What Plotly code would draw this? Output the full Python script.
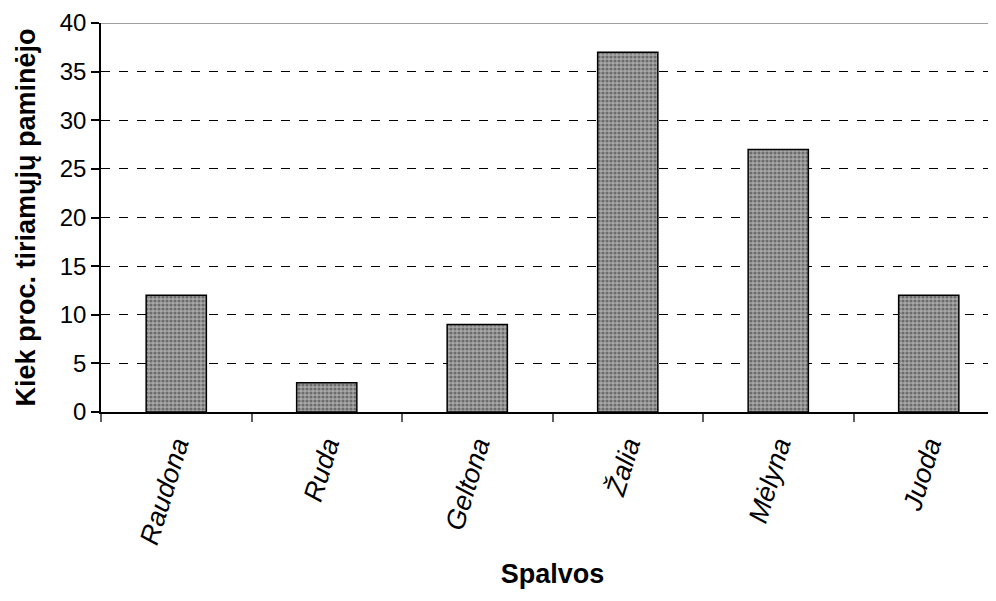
import plotly.graph_objects as go

categories = ["Raudona", "Ruda", "Geltona", "Žalia", "Mėlyna", "Juoda"]
values = [12, 3, 9, 37, 27, 12]
y_ticks = [0, 5, 10, 15, 20, 25, 30, 35, 40]

fig = go.Figure()
fig.add_trace(go.Bar(
    x=categories, y=values, width=0.4,
    marker=dict(color="#8c8c8c", line=dict(color="black", width=1.5),
                pattern=dict(shape=".", bgcolor="#a8a8a8", fgcolor="#303030",
                             size=4, solidity=0.5)),
))
fig.add_shape(type="line", xref="paper", yref="y", x0=0, x1=1, y0=40, y1=40,
              line=dict(color="#808080", width=1.5))

fig.update_layout(
    width=996, height=601,
    margin=dict(l=93, r=0, t=15, b=197),
    paper_bgcolor="white", plot_bgcolor="white",
    font=dict(family="Liberation Sans, Arial", size=24, color="black"),
    showlegend=False,
    xaxis=dict(
        range=[-0.5, 5.5], type="category",
        tickangle=-73, tickfont=dict(size=27, style="italic"),
        ticklabelstandoff=5,
        showline=True, linecolor="black", linewidth=1.5,
        ticks="outside", tickson="boundaries", ticklen=8, tickcolor="#606060", tickwidth=1.5,
        showgrid=False,
        title=dict(text="<b>Spalvos</b>", font=dict(size=27), standoff=17),
    ),
    yaxis=dict(
        range=[0, 40], tickvals=y_ticks,
        showline=True, linecolor="black", linewidth=1.5,
        ticks="outside", ticklen=8, tickcolor="black", tickwidth=1.5,
        showgrid=True, gridcolor="black", griddash="dash", gridwidth=1,
        zeroline=False,
        tickfont=dict(size=24),
        title=dict(text="<b>Kiek proc. tiriamųjų paminėjo</b>", font=dict(size=27), standoff=16),
    ),
)
fig.write_html("out.html")
